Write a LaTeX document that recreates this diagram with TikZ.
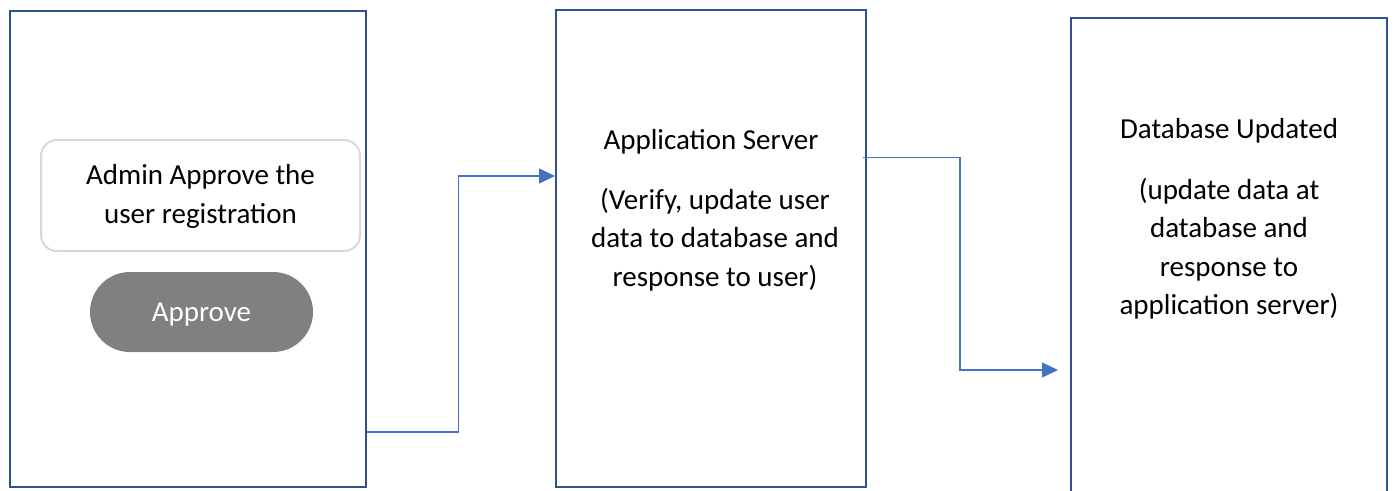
\documentclass[tikz,border=0pt]{standalone}
\usepackage{fontspec}
\setmainfont{Carlito}
\usetikzlibrary{arrows.meta,calc}
\definecolor{boxblue}{HTML}{2F528F}
\definecolor{arrblue}{HTML}{4472C4}
\definecolor{lightgray}{HTML}{D9D9D9}
\definecolor{pillgray}{HTML}{808080}
\tikzset{
  panel/.style={draw=boxblue, line width=2pt, rectangle, inner sep=0pt},
  txt/.style={align=center, font=\fontsize{29}{38.5}\selectfont, inner sep=0pt},
  conn/.style={draw=arrblue, line width=1.4pt, -{Triangle[length=16pt,width=15pt]}},
}
\begin{document}
\begin{tikzpicture}[x=1pt,y=-1pt]
\useasboundingbox (0,0) rectangle (1395,490);
% panels
\node[panel, minimum width=356pt, minimum height=476pt] (box1) at (188,249) {};
\node[panel, minimum width=310pt, minimum height=477pt] (box2) at (711,248.5) {};
\node[panel, minimum width=316pt, minimum height=482pt] (box3) at (1229,259) {};
% left panel content
\node[draw=lightgray, line width=2pt, rounded corners=16pt, minimum width=319pt, minimum height=111pt] (card) at (200.5,195.5) {};
\node[txt] (cardtxt) at (200.5,196.5) {Admin Approve the\\user registration};
\node[fill=pillgray, rounded corners=40pt, minimum width=223pt, minimum height=80pt, inner sep=0pt] (approve) at (201.5,312) {};
\node[text=white, font=\fontsize{29}{38}\selectfont, inner sep=0pt] (approvetxt) at (201.5,315) {Approve};
% middle panel text
\node[txt] (srvtitle) at (711,141.5) {Application Server};
\node[txt] (srvdesc) at (715,239.5) {(Verify, update user\\data to database and\\response to user)};
% right panel text
\node[txt] (dbtitle) at (1229,131) {Database Updated};
\node[txt] (dbdesc) at (1229,248.5) {(update data at\\database and\\response to\\application server)};
% connectors
\coordinate (k1) at (458.5,176);
\coordinate (k2) at (960,370);
\coordinate (e2) at (1058,370);
\draw[conn] (box1.east |- 0,432) -| (k1) -- (box2.west |- k1);
\draw[conn] ([xshift=-4pt]box2.east |- 0,157.5) -| (k2) -- (e2);
\end{tikzpicture}
\end{document}
